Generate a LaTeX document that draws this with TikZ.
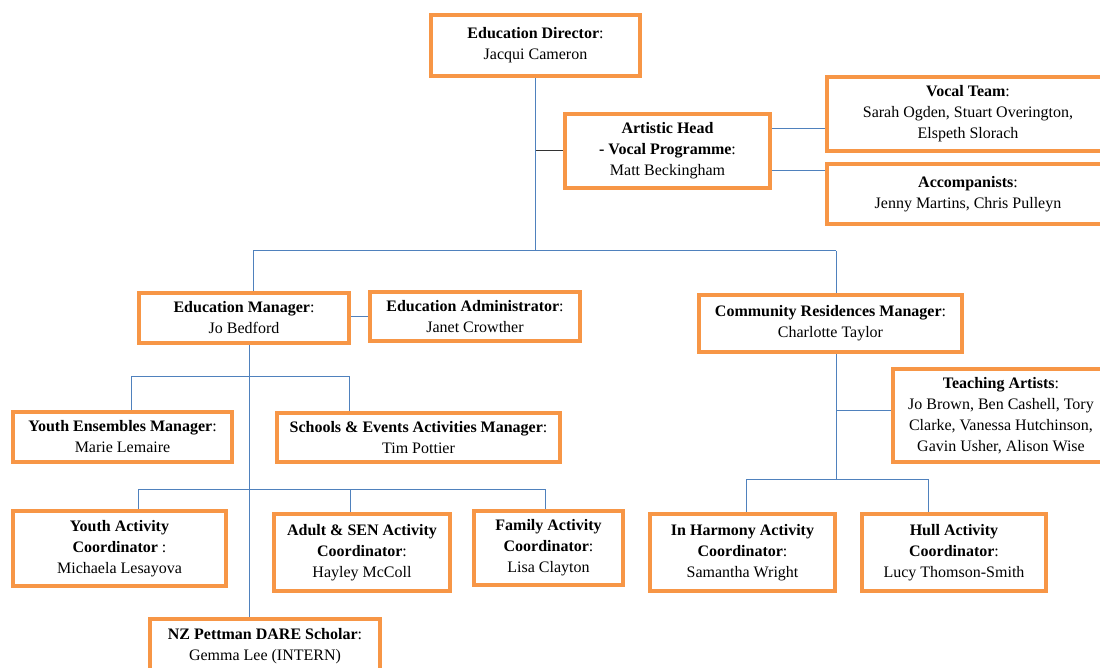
\documentclass[tikz,border=0pt]{standalone}
\usepackage{fontspec}
\setmainfont{Liberation Serif}
\usetikzlibrary{backgrounds}
\definecolor{boxorange}{HTML}{F79646}
\definecolor{connblue}{HTML}{4F81BD}
\tikzset{
  orgbox/.style={draw=boxorange, line width=4pt, fill=white, align=center,
    inner sep=0pt, font=\fontsize{16}{21}\selectfont},
  conn/.style={draw=connblue, line width=1pt},
  blk/.style={draw=black!80, line width=1pt}
}
\newcommand{\bx}[6]{% name, cx, cy, outer w, outer h, text
  \node[orgbox, minimum width=#4pt-4pt, minimum height=#5pt-4pt] (#1) at (#2,#3) {#6};}
\begin{document}
\begin{tikzpicture}[x=1pt,y=-1pt]
\useasboundingbox (0,0) rectangle (1100,668);
\clip (0,0) rectangle (1100,668);
\bx{dir}{535.5}{45.5}{213}{65}{\textbf{Education Director}:\\Jacqui Cameron}
\bx{art}{667.5}{151}{209}{78}{\textbf{Artistic Head}\\\textbf{- Vocal Programme}:\\Matt Beckingham}
\bx{vocal}{968}{114}{286}{78}{\textbf{Vocal Team}:\\Sarah Ogden, Stuart Overington,\\Elspeth Slorach}
\bx{acc}{968}{194}{286}{64}{\textbf{Accompanists}:\\Jenny Martins, Chris Pulleyn}
\bx{edm}{244}{318}{214}{54}{\textbf{Education Manager}:\\Jo Bedford}
\bx{eda}{475}{316.5}{214}{53}{\textbf{Education Administrator}:\\Janet Crowther}
\bx{crm}{830.5}{323.5}{267}{61}{\textbf{Community Residences Manager}:\\Charlotte Taylor}
\bx{yem}{122.5}{437}{223}{54}{\textbf{Youth Ensembles Manager}:\\Marie Lemaire}
\bx{sea}{418.5}{437.5}{287}{53}{\textbf{Schools \& Events Activities Manager}:\\Tim Pottier}
\bx{ta}{1001}{415.5}{220}{97}{\textbf{Teaching Artists}:\\Jo Brown, Ben Cashell, Tory\\Clarke, Vanessa Hutchinson,\\Gavin Usher, Alison Wise}
\bx{yac}{119.5}{548.5}{217}{79}{\textbf{Youth Activity}\\\textbf{Coordinator} :\\Michaela Lesayova}
\bx{asc}{362}{552.5}{180}{81}{\textbf{Adult \& SEN Activity}\\\textbf{Coordinator}:\\Hayley McColl}
\bx{fac}{548.5}{548}{153}{78}{\textbf{Family Activity}\\\textbf{Coordinator}:\\Lisa Clayton}
\bx{iha}{742.5}{552.5}{189}{81}{\textbf{In Harmony Activity}\\\textbf{Coordinator}:\\Samantha Wright}
\bx{hull}{954}{552.5}{188}{81}{\textbf{Hull Activity}\\\textbf{Coordinator}:\\Lucy Thomson-Smith}
\bx{nz}{265}{646.5}{234}{59}{\textbf{NZ Pettman DARE Scholar}:\\Gemma Lee (INTERN)}
\begin{pgfonlayer}{background}
\coordinate (busL) at (253,251);
\coordinate (busR) at (836,251);
\draw[conn] (dir.south) -- (dir.south |- busL);
\draw[conn] (busL) -- (busR);
\draw[conn] (busL) -- (busL |- edm.north);
\draw[conn] (busR) -- (busR |- crm.north);
\draw[blk] (dir.south |- art.west) -- (art.west);
\coordinate (v1) at (0,129);
\coordinate (v2) at (0,171);
\draw[conn] (art.east |- v1) -- (vocal.west |- v1);
\draw[conn] (art.east |- v2) -- (acc.west |- v2);
\coordinate (e1) at (0,316);
\draw[conn] (edm.east |- e1) -- (eda.west |- e1);
\coordinate (t1) at (249,0);
\draw[conn] (edm.south -| t1) -- (nz.north -| t1);
\coordinate (b2l) at (131,376);
\coordinate (b2r) at (349,376);
\draw[conn] (yem.north -| b2l) -- (b2l) -- (b2r) -- (sea.north -| b2r);
\coordinate (b3l) at (138,489);
\coordinate (b3m) at (350,489);
\coordinate (b3r) at (545,489);
\draw[conn] (yac.north -| b3l) -- (b3l) -- (b3r) -- (fac.north -| b3r);
\draw[conn] (b3m) -- (asc.north -| b3m);
\coordinate (c4) at (836,479);
\draw[conn] (crm.south -| busR) -- (c4);
\coordinate (tj) at (836,410);
\draw[conn] (tj) -- (ta.west |- tj);
\coordinate (b4l) at (746,479);
\coordinate (b4r) at (928,479);
\draw[conn] (iha.north -| b4l) -- (b4l) -- (b4r) -- (hull.north -| b4r);
\end{pgfonlayer}
\end{tikzpicture}
\end{document}
